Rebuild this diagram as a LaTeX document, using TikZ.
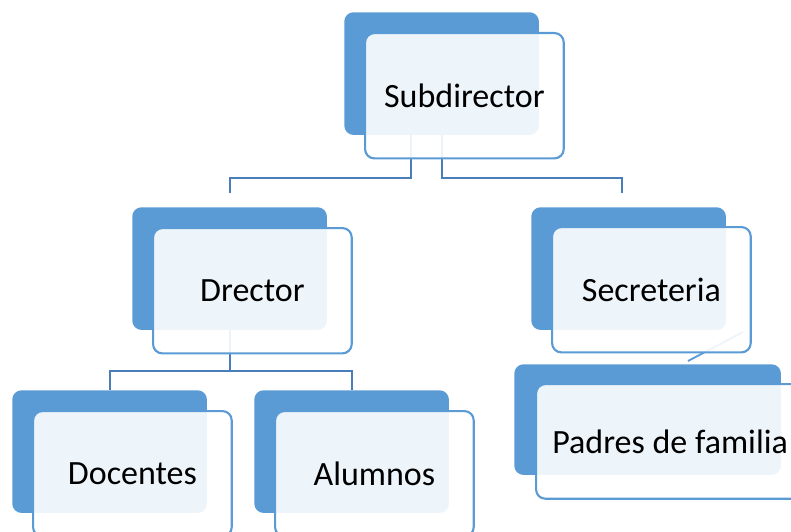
\documentclass[tikz,border=0pt]{standalone}
\usepackage{fontspec}
\setmainfont{Carlito}
\usepackage{tikz}
\definecolor{smartblue}{HTML}{5B9BD5}
\definecolor{linkblue}{HTML}{4A7EBB}

\begin{document}
\begin{tikzpicture}[
            x = 0.75pt, y = -0.75pt, % pixel grid, y downwards
            backbox/.style = {fill=smartblue, rounded corners=7pt, anchor=north west,
                inner sep=0pt, minimum width=146pt, minimum height=92pt},
            frontbox/.style = {draw=smartblue, line width=1.6pt, fill=white, fill opacity=0.9,
                text opacity=1, rounded corners=7pt, anchor=north west, inner sep=0pt,
                minimum width=149pt, minimum height=94pt, font=\fontsize{25.5}{30}\selectfont},
            link/.style = {draw=linkblue, line width=1.6pt} % connector style
        ]
\useasboundingbox (0,0) rectangle (791,531);
\clip (0,0) rectangle (791,531);

% back boxes
\node[backbox] (subb) at (344,12) {};
\node[backbox] (dirb) at (132,207) {};
\node[backbox] (secb) at (531,207) {};
\node[backbox, minimum width=200pt, minimum height=83pt] (padb) at (514,364) {};
\node[backbox] (docb) at (12,390) {};
\node[backbox] (alub) at (254,390) {};

\coordinate (dirtop) at (230,193);
\coordinate (sectop) at (622,193);
\coordinate (secout) at (743,332);
\coordinate (padtop) at (688,361);

 \path [link] ([xshift=-23.25pt]subb.south) -- ++(0,43) -| (dirtop);
 \path [link] (subb.south) -- ++(0,43) -| (sectop);
 \path [link] (dirb.south) -- ++(0,41) -| (docb.north);
 \path [link] (dirb.south) -- ++(0,41) -| (alub.north);
 \path [draw=smartblue, line width=1.4pt] (secout) -- (padtop);

% front boxes
\node[frontbox] (subf) at (364,32) {Subdirector};
\node[frontbox] (dirf) at (152,227) {Drector};
\node[frontbox] (secf) at (551,226) {Secreteria};
\node[frontbox, minimum width=201pt, minimum height=86pt] (padf) at (535,383) {Padres de familia};
\node[frontbox] (docf) at (32,410) {Docentes};
\node[frontbox] (aluf) at (274,410) {Alumnos};

\end{tikzpicture}
\end{document}
